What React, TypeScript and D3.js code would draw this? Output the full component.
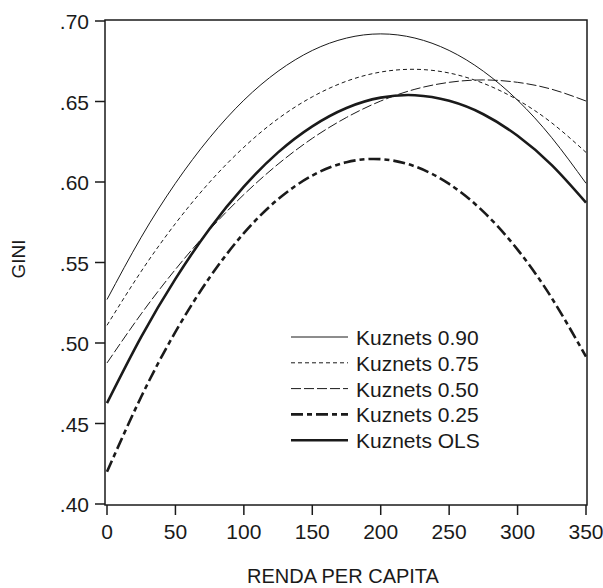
import React from 'react';
import * as d3 from 'd3';

// renda per capita sampled every 25 units
const renda = [0, 25, 50, 75, 100, 125, 150, 175, 200, 225, 250, 275, 300, 325, 350];

const k90 = [0.527, 0.5657, 0.5992, 0.6275, 0.6508, 0.6688, 0.6817, 0.6894, 0.692, 0.6894, 0.6817, 0.6688, 0.6508, 0.6275, 0.5992];
const k75 = [0.511, 0.5445, 0.5742, 0.5999, 0.6216, 0.6393, 0.6529, 0.6626, 0.6683, 0.67, 0.6677, 0.6613, 0.651, 0.6367, 0.6184];
const k50 = [0.4876, 0.5181, 0.5457, 0.5704, 0.5922, 0.6111, 0.6271, 0.6401, 0.6503, 0.6576, 0.6619, 0.6634, 0.6619, 0.6576, 0.6503];
const k25 = [0.42, 0.4666, 0.5069, 0.5407, 0.5682, 0.5893, 0.604, 0.6123, 0.6142, 0.6097, 0.5988, 0.5816, 0.558, 0.5279, 0.4915];
const kOls = [0.4627, 0.5038, 0.5398, 0.571, 0.5971, 0.6184, 0.6346, 0.646, 0.6524, 0.6539, 0.6504, 0.6421, 0.6287, 0.6105, 0.5872];

const xTicks = [0, 50, 100, 150, 200, 250, 300, 350];
const yTicks = [0.4, 0.45, 0.5, 0.55, 0.6, 0.65, 0.7];

const series = [
  { name: 'Kuznets 0.90', values: k90, width: 1, dash: '' },
  { name: 'Kuznets 0.75', values: k75, width: 1, dash: '4,3' },
  { name: 'Kuznets 0.50', values: k50, width: 1, dash: '10,3' },
  { name: 'Kuznets 0.25', values: k25, width: 2.6, dash: '12,4,5,4' },
  { name: 'Kuznets OLS', values: kOls, width: 2.6, dash: '' },
];

const font = 'Arial, "Liberation Sans", sans-serif';
const ink = '#1a1a1a';

export default function App() {
  const frame = { left: 105, top: 20, right: 587, bottom: 505 };
  const x = d3.scaleLinear().domain([0, 350]).range([107, 586]);
  const y = d3.scaleLinear().domain([0.4, 0.7]).range([504, 21]);

  const line = d3.line<number>()
    .x((d, i) => x(renda[i]))
    .y(d => y(d))
    .curve(d3.curveNatural);

  const fmt = (v: number) => d3.format('.2f')(v).replace(/^0/, '');

  return (
    <svg width={603} height={588} style={{ position: 'absolute', left: 0, top: 0, background: '#fff' }}
      fontFamily={font}>
      <defs>
        <clipPath id="plot">
          <rect x={frame.left} y={frame.top} width={frame.right - frame.left} height={frame.bottom - frame.top} />
        </clipPath>
      </defs>

      <g clipPath="url(#plot)">
        {series.map(s => (
          <path key={s.name} d={line(s.values) || ''} fill="none" stroke={ink}
            strokeWidth={s.width} strokeDasharray={s.dash || undefined} />
        ))}
      </g>

      <rect x={frame.left} y={frame.top} width={frame.right - frame.left} height={frame.bottom - frame.top}
        fill="none" stroke={ink} strokeWidth={1.5} />

      {yTicks.map(t => (
        <g key={t}>
          <line x1={95} x2={frame.left} y1={y(t)} y2={y(t)} stroke={ink} strokeWidth={1.5} />
          <text x={89} y={y(t) + 8} textAnchor="end" fontSize={21} fill={ink}>{fmt(t)}</text>
        </g>
      ))}

      {xTicks.map(t => (
        <g key={t}>
          <line x1={x(t)} x2={x(t)} y1={frame.bottom} y2={515} stroke={ink} strokeWidth={1.5} />
          <text x={x(t)} y={539} textAnchor="middle" fontSize={21} fill={ink}>{t}</text>
        </g>
      ))}

      <text x={343} y={583} textAnchor="middle" fontSize={20} fill={ink}>RENDA PER CAPITA</text>
      <text transform="translate(25,259) rotate(-90)" textAnchor="middle" fontSize={19} fill={ink}>GINI</text>

      {series.map((s, i) => {
        const ly = 337 + i * 25.8;
        return (
          <g key={s.name}>
            <line x1={291} x2={348} y1={ly} y2={ly} stroke={ink} strokeWidth={s.width}
              strokeDasharray={s.dash || undefined} />
            <text x={356} y={ly + 8} fontSize={21} fill={ink}>{s.name}</text>
          </g>
        );
      })}
    </svg>
  );
}
